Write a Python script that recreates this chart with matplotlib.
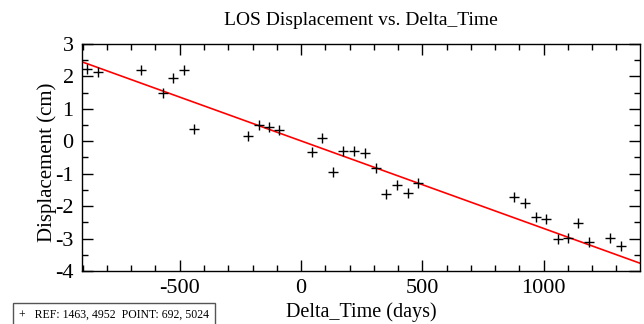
import matplotlib
matplotlib.use('Agg')
import matplotlib.pyplot as plt
import numpy as np
from matplotlib.ticker import MultipleLocator

# Data
delta_time = np.array([-883, -836, -661, -570, -529, -484, -440, -218, -174, -132, -89,
                       44, 88, 133, 174, 220, 265, 308, 352, 396, 440, 484,
                       879, 923, 967, 1011, 1057, 1099, 1143, 1186, 1275, 1319])
displacement = np.array([2.23, 2.14, 2.20, 1.48, 1.96, 2.21, 0.37, 0.17, 0.50, 0.44, 0.35,
                         -0.34, 0.11, -0.94, -0.29, -0.31, -0.37, -0.83, -1.63, -1.35, -1.59, -1.30,
                         -1.73, -1.89, -2.34, -2.40, -3.00, -2.99, -2.51, -3.10, -2.99, -3.23])

# linear trend (slope cm/day, intercept cm)
slope = -0.0027
intercept = 0.012

plt.rcParams['font.family'] = ['Liberation Serif', 'DejaVu Serif']
plt.rcParams['axes.unicode_minus'] = False

fig = plt.figure(figsize=(6.44, 3.24), dpi=100)
ax = fig.add_axes([0.1273, 0.1636, 0.8665, 0.7006])

xx = np.array([-903, 1397])
ax.plot(xx, slope * xx + intercept, color='red', lw=1.2, zorder=2)
ax.plot(delta_time, displacement, '+', color='black', ms=7, mew=1.0, zorder=3)

ax.set_xlim(-903, 1397)
ax.set_ylim(-4, 3)
ax.xaxis.set_major_locator(MultipleLocator(500))
ax.xaxis.set_minor_locator(MultipleLocator(100))
ax.yaxis.set_major_locator(MultipleLocator(1))
ax.yaxis.set_minor_locator(MultipleLocator(0.5))
ax.tick_params(which='both', direction='in', top=True, right=True, labelsize=16, width=1)
ax.tick_params(which='major', length=8, pad=6)
ax.tick_params(which='minor', length=4)
for s in ax.spines.values():
    s.set_linewidth(1)

ax.set_xlabel('Delta_Time (days)', fontsize=14.5, labelpad=3)
ax.set_ylabel('Displacement (cm)', fontsize=15)
ax.yaxis.set_label_coords(-0.045, 0.48)
ax.set_title('LOS Displacement vs. Delta_Time', fontsize=14, pad=14)

fig.text(0.03, 0.02, '+   REF: 1463, 4952  POINT: 692, 5024', fontsize=8.5,
         bbox=dict(facecolor='white', edgecolor='#555555', boxstyle='square,pad=0.5'))

fig.savefig('out.png', dpi=100)
